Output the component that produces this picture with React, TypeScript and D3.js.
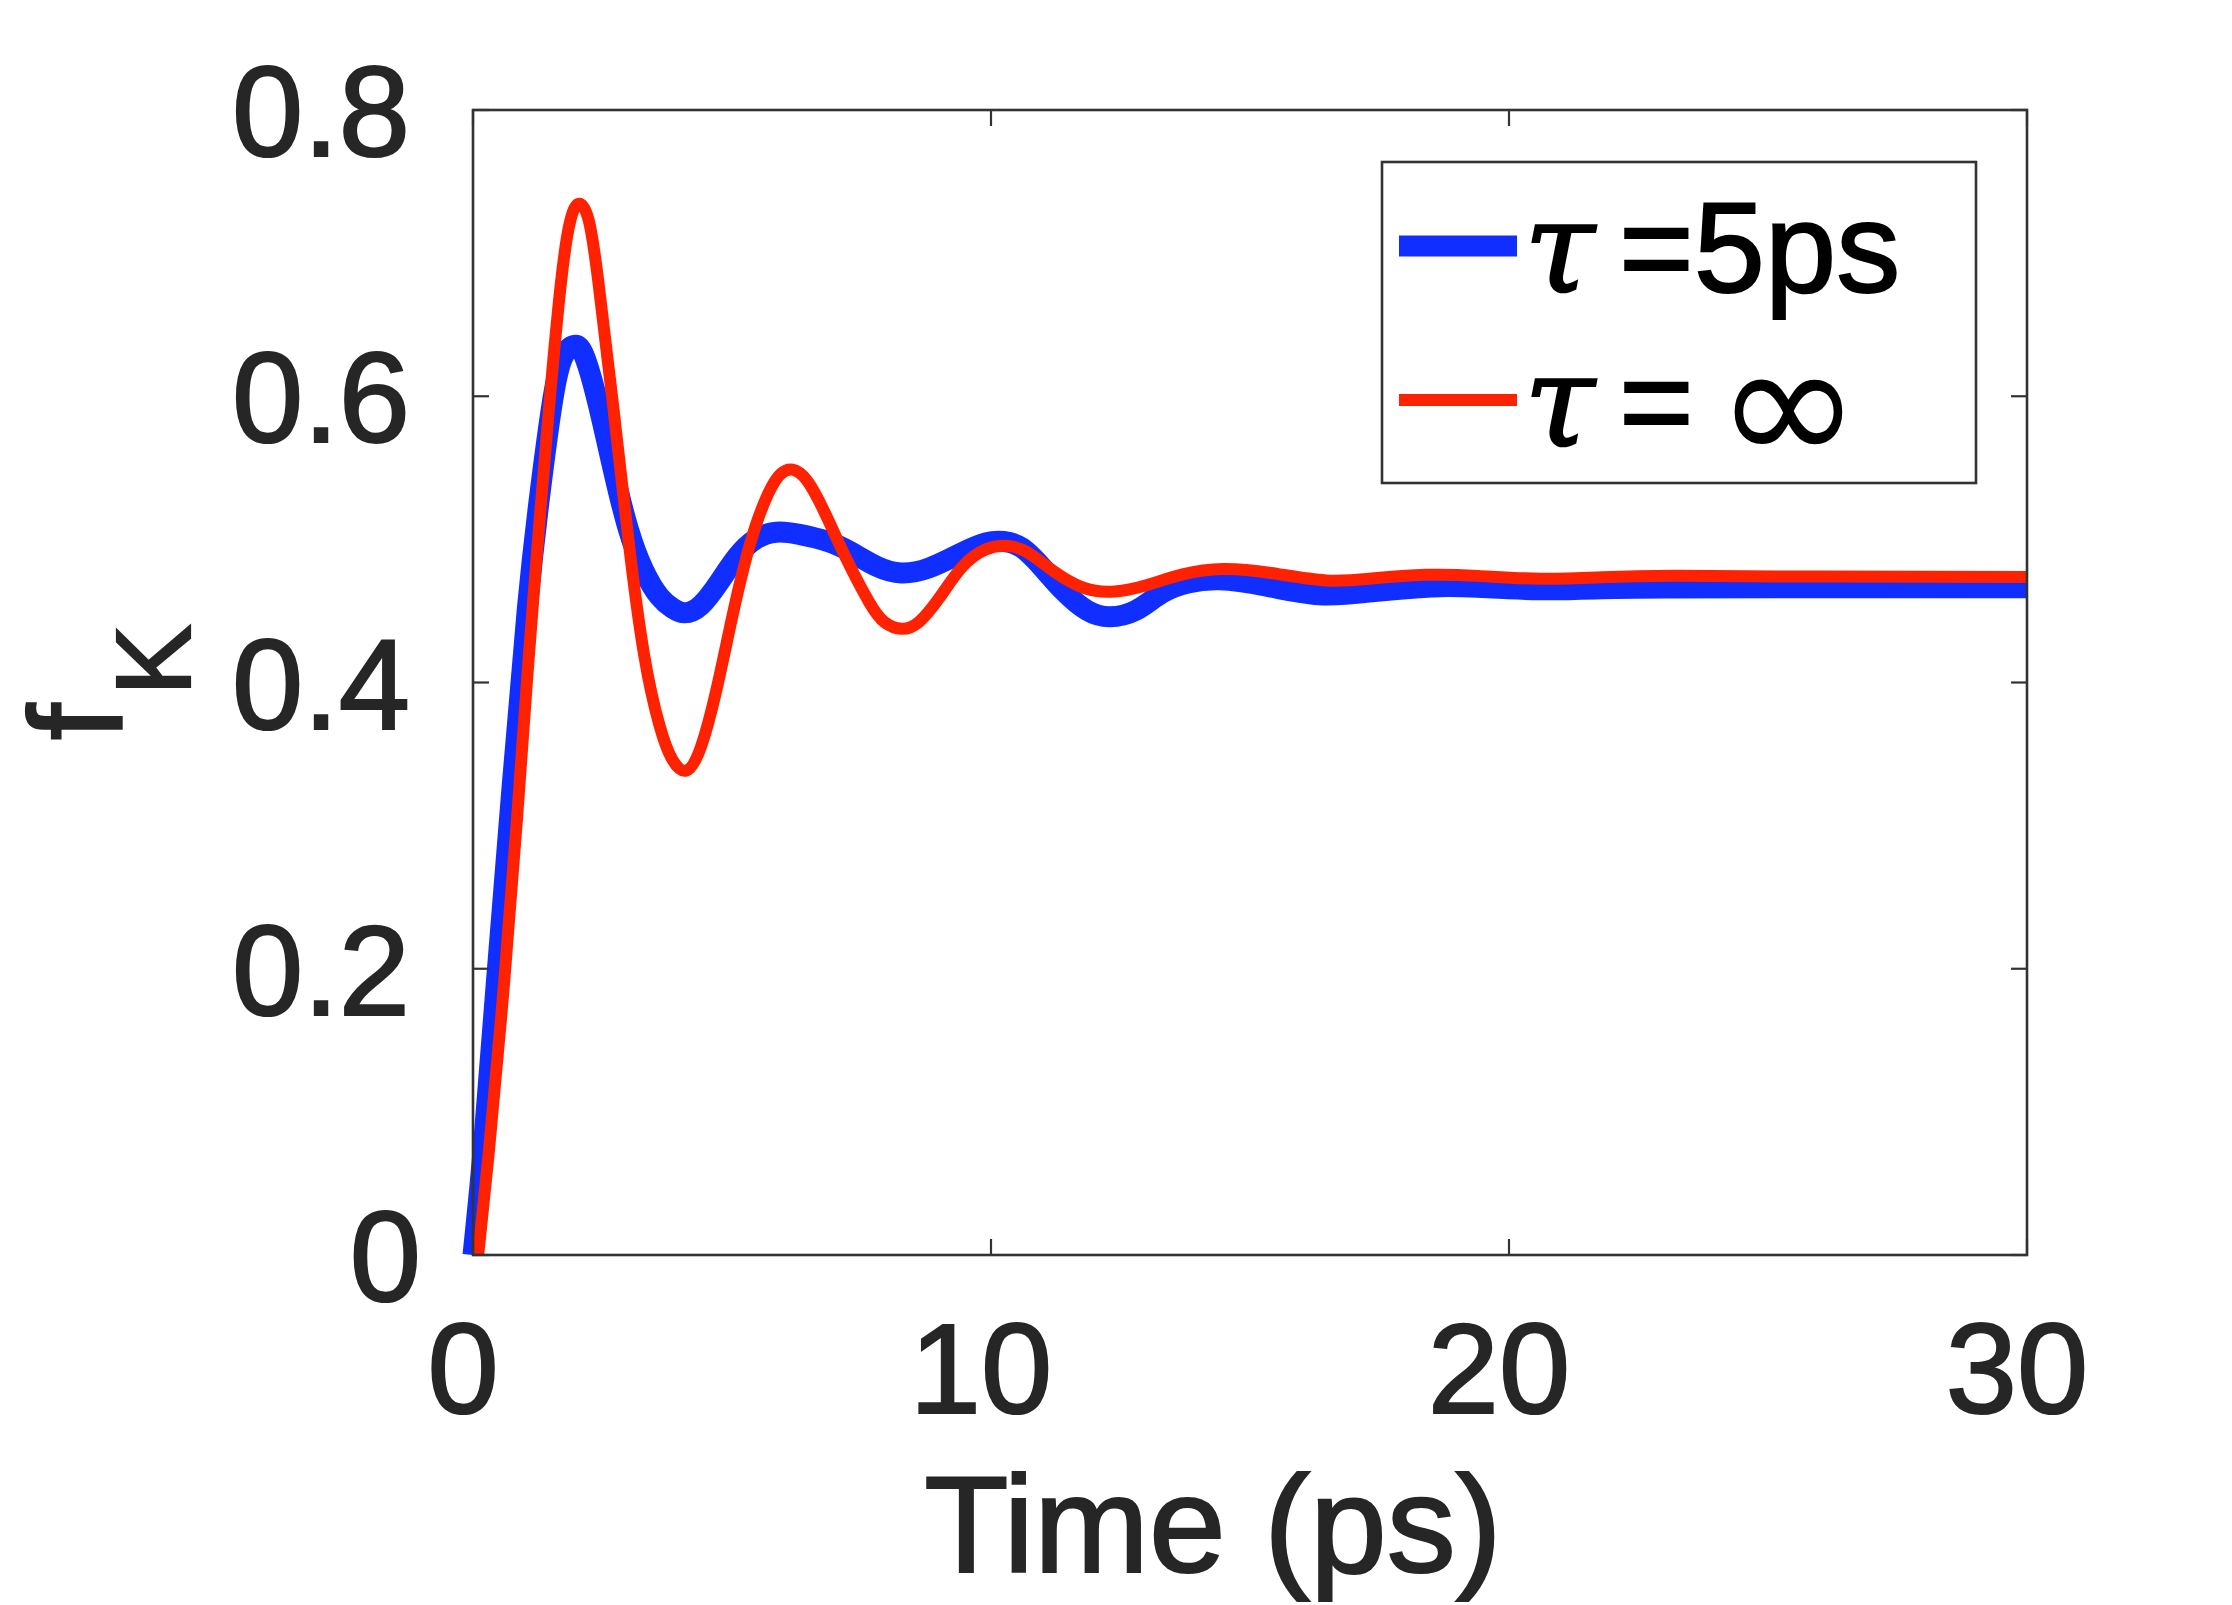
import React from 'react';
import * as d3 from 'd3';

const WIDTH = 2232;
const HEIGHT = 1605;
const margin = { l: 473, r: 205, t: 110, b: 350 };

// f_K(t) for finite relaxation time tau = 5 ps
const timeBlue = [
  0, 0.2, 0.45, 0.75, 1.05, 1.3, 1.52, 1.72, 1.96, 2.15, 2.4, 2.7, 3.0, 3.3, 3.6, 3.85, 4.09, 4.4,
  4.75, 5.1, 5.45, 5.85, 6.3, 6.85, 7.3, 7.8, 8.27, 8.8, 9.4, 9.9, 10.25, 10.6, 11.0, 11.4, 11.85,
  12.29, 12.8, 13.3, 13.8, 14.41, 15.3, 16.34, 17.4, 18.5, 19.4, 20.6, 21.8, 23, 26, 30,
];
const fkBlue = [
  0, 0.075, 0.19, 0.325, 0.452, 0.534, 0.593, 0.626, 0.6355, 0.628, 0.597, 0.55, 0.507, 0.478, 0.46,
  0.452, 0.4487, 0.454, 0.47, 0.488, 0.5, 0.505, 0.5035, 0.4985, 0.491, 0.481, 0.4765, 0.48, 0.49,
  0.4975, 0.4985, 0.494, 0.48, 0.464, 0.4505, 0.446, 0.4505, 0.4625, 0.4695, 0.4718, 0.4675, 0.4613,
  0.4635, 0.4668, 0.4665, 0.4648, 0.4655, 0.466, 0.4662, 0.4662,
];

// f_K(t) without relaxation (tau = infinity)
const timeRed = [
  0.1, 0.3, 0.6, 0.85, 1.05, 1.3, 1.5, 1.7, 1.88, 2.06, 2.24, 2.42, 2.7, 3.0, 3.3, 3.6, 3.85, 4.12,
  4.4, 4.7, 5.0, 5.35, 5.7, 5.95, 6.17, 6.45, 6.8, 7.2, 7.65, 7.95, 8.27, 8.6, 9.0, 9.45, 9.9, 10.3,
  10.7, 11.2, 11.8, 12.39, 13.0, 13.7, 14.48, 15.4, 16.47, 17.4, 18.4, 19.4, 20.6, 21.8, 23.2, 26, 30,
];
const fkRed = [
  0, 0.07, 0.19, 0.305, 0.405, 0.52, 0.605, 0.68, 0.723, 0.7345, 0.722, 0.68, 0.595, 0.5, 0.42, 0.37,
  0.346, 0.3385, 0.355, 0.395, 0.445, 0.497, 0.532, 0.546, 0.5487, 0.541, 0.518, 0.487, 0.456, 0.442,
  0.4375, 0.442, 0.459, 0.481, 0.493, 0.4955, 0.491, 0.478, 0.466, 0.4636, 0.468, 0.4755, 0.4793,
  0.4765, 0.4713, 0.4728, 0.4752, 0.4745, 0.4725, 0.4735, 0.4745, 0.474, 0.4737,
];

const xTicks = [0, 10, 20, 30];
const yTicks = [0, 0.2, 0.4, 0.6, 0.8];
const yTickLabels = ['0', '0.2', '0.4', '0.6', '0.8'];

const BLUE = '#0f2eff';
const RED = '#ff2200';
const AXIS = '#333333';
const INK = '#262626';
const FONT = '"Liberation Sans", Arial, Helvetica, sans-serif';
const TICK = 16;

const App = () => {
  const innerW = WIDTH - margin.l - margin.r;
  const innerH = HEIGHT - margin.t - margin.b;

  const xScale = d3.scaleLinear().domain([0, 30]).range([margin.l, margin.l + innerW]);
  const yScale = d3.scaleLinear().domain([0, 0.8]).range([margin.t + innerH, margin.t]);

  const line = d3
    .line<[number, number]>()
    .x((d) => xScale(d[0]))
    .y((d) => yScale(d[1]))
    .curve(d3.curveNatural);

  const bluePts = timeBlue.map((t, i) => [t, fkBlue[i]] as [number, number]);
  const redPts = timeRed.map((t, i) => [t, fkRed[i]] as [number, number]);

  const x0 = xScale(0);
  const x1 = xScale(30);
  const y0 = yScale(0);
  const y1 = yScale(0.8);

  // legend box
  const lg = { x: 1382, y: 162, w: 594, h: 321 };
  const rows = [
    { color: BLUE, width: 21, cy: 246 },
    { color: RED, width: 12, cy: 400 },
  ];

  // slightly heavier glyphs, like the exported figure text
  const heavy = { stroke: INK, strokeWidth: 2.2 };

  return (
    <svg
      width={WIDTH}
      height={HEIGHT}
      style={{ position: 'absolute', left: 0, top: 0, background: '#fff' }}
      fontFamily={FONT}
    >
      <rect x={0} y={0} width={WIDTH} height={HEIGHT} fill="#fff" />

      {/* curves */}
      <path
        d={line(bluePts) || ''}
        fill="none"
        stroke={BLUE}
        strokeWidth={21}
        strokeLinejoin="round"
      />
      <path d={line(redPts) || ''} fill="none" stroke={RED} strokeWidth={12} strokeLinejoin="round" />

      {/* box and ticks on all four sides */}
      <rect
        x={x0}
        y={y1}
        width={x1 - x0}
        height={y0 - y1}
        fill="none"
        stroke={AXIS}
        strokeWidth={2.6}
      />
      {xTicks.map((t) => (
        <g key={`xt-${t}`} stroke={AXIS} strokeWidth={2.2}>
          <line x1={xScale(t)} x2={xScale(t)} y1={y0} y2={y0 - TICK} />
          <line x1={xScale(t)} x2={xScale(t)} y1={y1} y2={y1 + TICK} />
        </g>
      ))}
      {yTicks.map((v) => (
        <g key={`yt-${v}`} stroke={AXIS} strokeWidth={2.2}>
          <line x1={x0} x2={x0 + TICK} y1={yScale(v)} y2={yScale(v)} />
          <line x1={x1} x2={x1 - TICK} y1={yScale(v)} y2={yScale(v)} />
        </g>
      ))}

      {/* tick labels */}
      {xTicks.map((t) => (
        <text
          key={`xl-${t}`}
          x={xScale(t) - 10}
          y={1413}
          fontSize={128}
          textAnchor="middle"
          fill={INK}
          {...heavy}
        >
          {t}
        </text>
      ))}
      {yTicks.map((v, i) => (
        <text
          key={`yl-${v}`}
          x={i === 0 ? 421 : 410}
          y={yScale(v) + 46}
          fontSize={128}
          textAnchor="end"
          fill={INK}
          {...heavy}
        >
          {yTickLabels[i]}
        </text>
      ))}

      {/* axis titles */}
      <text x={1213} y={1572} fontSize={138} textAnchor="middle" fill={INK} {...heavy}>
        Time (ps)
      </text>
      <text
        transform={`translate(122, ${(y0 + y1) / 2}) rotate(-90)`}
        textAnchor="middle"
        fill={INK}
        {...heavy}
      >
        <tspan fontSize={132}>f</tspan>
        <tspan fontSize={106} dx={8} dy={68}>
          K
        </tspan>
      </text>

      {/* legend */}
      <rect
        x={lg.x}
        y={lg.y}
        width={lg.w}
        height={lg.h}
        fill="#fff"
        stroke={AXIS}
        strokeWidth={2.6}
      />
      {rows.map((r) => (
        <line
          key={r.color}
          x1={1399}
          x2={1517}
          y1={r.cy}
          y2={r.cy}
          stroke={r.color}
          strokeWidth={r.width}
        />
      ))}
      <text
        y={rows[0].cy + 46}
        fontSize={128}
        fill="#000"
        stroke="#000"
        strokeWidth={2}
        style={{ whiteSpace: 'pre' }}
      >
        <tspan x={1524} fontFamily='"DejaVu Serif", serif' fontStyle="italic">
          τ
        </tspan>
        <tspan x={1619}>=5ps</tspan>
      </text>
      <text
        y={rows[1].cy + 46}
        fontSize={128}
        fill="#000"
        stroke="#000"
        strokeWidth={2}
        style={{ whiteSpace: 'pre' }}
      >
        <tspan x={1524} fontFamily='"DejaVu Serif", serif' fontStyle="italic">
          τ
        </tspan>
        <tspan x={1619}>=</tspan>
        <tspan
          x={1716}
          fontFamily='"DejaVu Sans", sans-serif'
          fontSize={174}
          strokeWidth={0}
          dy={18}
        >
          ∞
        </tspan>
      </text>
    </svg>
  );
};

export default App;
